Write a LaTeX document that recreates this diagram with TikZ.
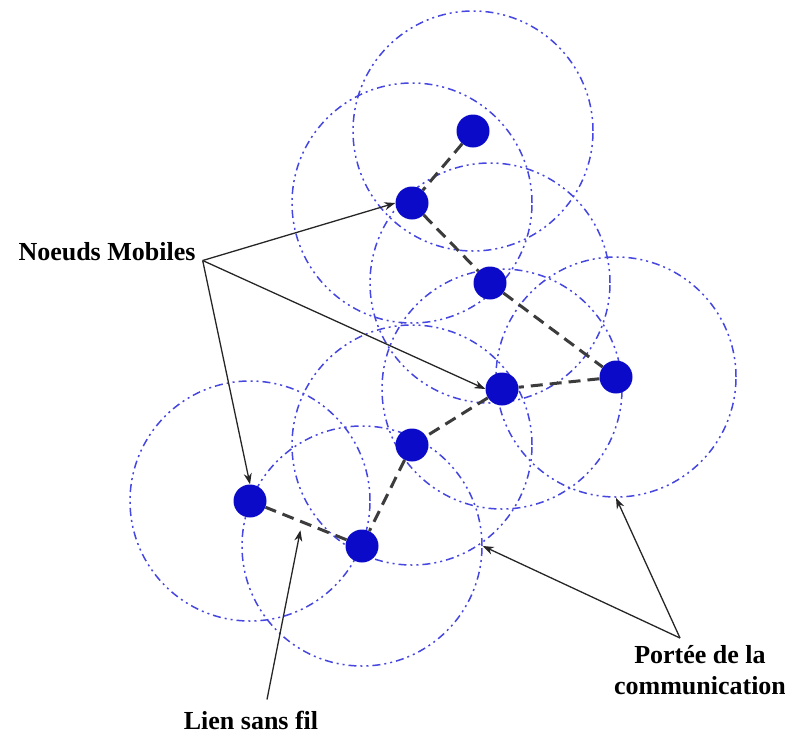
\documentclass[tikz,border=0pt]{standalone}
\usepackage{fontspec}
\setmainfont{Liberation Serif}
\usetikzlibrary{arrows.meta,positioning,calc,backgrounds}
\definecolor{nodeblue}{RGB}{10,10,200}
\definecolor{rangeblue}{RGB}{70,70,225}
\definecolor{linkgrey}{RGB}{60,60,60}

\begin{document}
\begin{tikzpicture}[x=1pt, y=-1pt,
    mobile/.style={circle, fill=nodeblue, minimum size=33pt, inner sep=0pt},
    commrange/.style={circle, draw=rangeblue, line width=1.5pt, minimum size=240pt,
        inner sep=0pt, dash pattern=on 8pt off 4pt on 2pt off 4pt on 2pt off 4pt},
    link/.style={draw=linkgrey, line width=3pt, dash pattern=on 12pt off 7pt},
    lbl/.style={font=\fontsize{26}{31}\selectfont\bfseries, inner sep=0pt,
        align=center},
    arr/.style={-{Stealth[length=11pt, width=8pt]}, line width=1.3pt, black!85}
]
    \useasboundingbox (0,0) rectangle (785,734);

    % Mobile nodes
    \node[mobile] (n1) at (473,131) {};
    \node[mobile] (n2) at (412,203) {};
    \node[mobile] (n3) at (490,283) {};
    \node[mobile] (n4) at (616,377) {};
    \node[mobile] (n5) at (502,389) {};
    \node[mobile] (n6) at (412,445) {};
    \node[mobile] (n7) at (250,501) {};
    \node[mobile] (n8) at (362,546) {};

    % Communication ranges
    \begin{scope}[on background layer]
        \node[commrange] (r1) at (n1) {};
        \node[commrange] (r2) at (n2) {};
        \node[commrange] (r3) at (n3) {};
        \node[commrange] (r4) at (n4) {};
        \node[commrange] (r5) at (n5) {};
        \node[commrange] (r6) at (n6) {};
        \node[commrange] (r7) at (n7) {};
        \node[commrange] (r8) at (n8) {};
    \end{scope}

    % Wireless links
    \draw[link] (n1) -- (n2);
    \draw[link] (n2) -- (n3);
    \draw[link] (n3) -- (n4);
    \draw[link] (n4) -- (n5);
    \draw[link] (n5) -- (n6);
    \draw[link] (n6) -- (n8);
    \draw[link] (n8) -- (n7);

    % Labels
    \node[lbl, anchor=base] (mob) at (107,260) {Noeuds Mobiles};
    \node[lbl, anchor=base] (lsf) at (251,729) {Lien sans fil};
    \node[lbl, anchor=north] (por) at (700,645) {Portée de la\\communication};

    % Pointers
    \draw[arr] ([xshift=7pt]mob.south east) -- (n2.west);
    \draw[arr] ([xshift=7pt]mob.south east) -- (n5.west);
    \draw[arr] ([xshift=7pt]mob.south east) -- (n7.north);

    \coordinate (lnk) at ($(n7)!0.45!(n8)+(0,9)$);
    \draw[arr] ([xshift=16pt, yshift=11pt]lsf.north) -- (lnk);

    \draw[arr] ([xshift=-20pt, yshift=7pt]por.north) -- (r8.east);
    \draw[arr] ([xshift=-20pt, yshift=7pt]por.north) -- (r4.south);
\end{tikzpicture}
\end{document}
